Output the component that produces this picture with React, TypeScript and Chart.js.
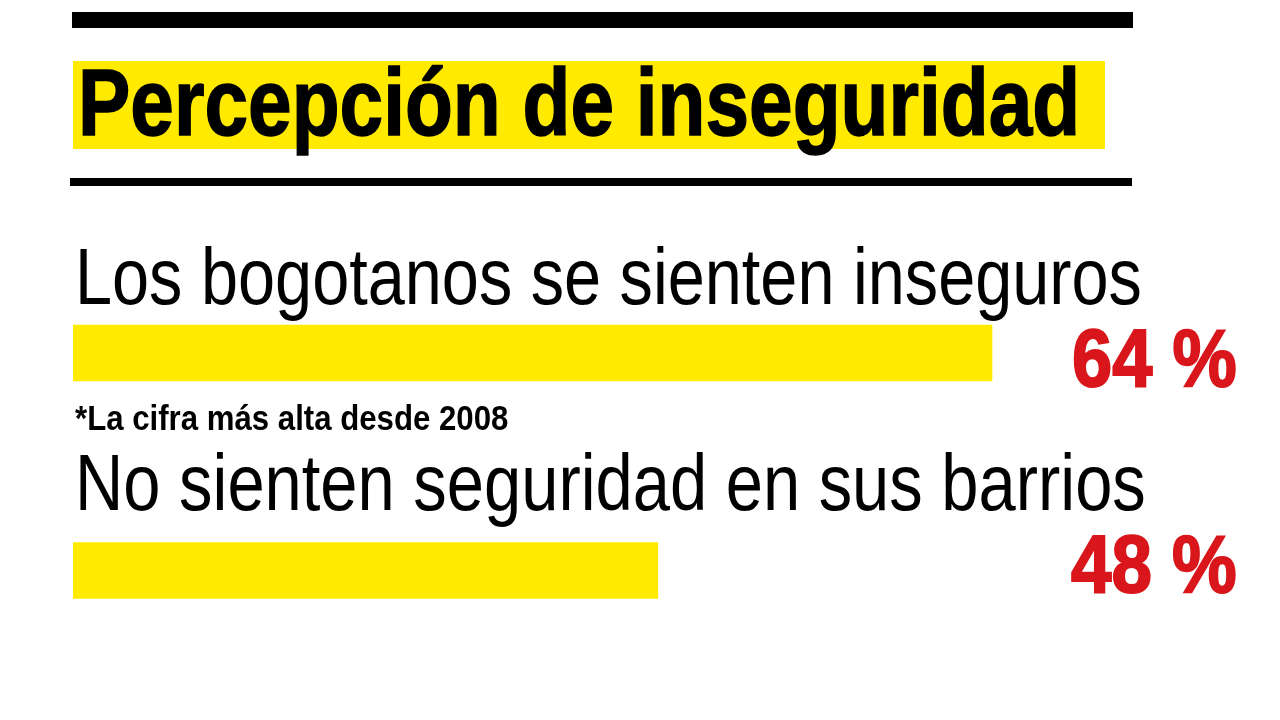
import { useEffect, useLayoutEffect, useRef, useState } from 'react';
import { Chart, registerables } from 'chart.js';

Chart.register(...registerables);

const title = 'Percepción de inseguridad';
const categories = ['Los bogotanos se sienten inseguros', 'No sienten seguridad en sus barrios'];
const values = [64, 48];
const valueLabels = values.map(v => `${v} %`);
const footnote = '*La cifra más alta desde 2008';

const YELLOW = '#ffea00';
const RED = '#d9161b';
const FONT = "'Liberation Sans', Arial, sans-serif";

interface FitTextProps {
  text: string;
  left: number;
  top: number;
  width: number;
  size: number;
  weight?: number;
  color?: string;
  stroke?: number;
}

// Text squeezed horizontally to the width it has in the reference (condensed look).
function FitText({ text, left, top, width, size, weight = 400, color = '#000', stroke = 0 }: FitTextProps): JSX.Element {
  const ref = useRef<HTMLSpanElement>(null);
  const [scale, setScale] = useState(1);

  useLayoutEffect(() => {
    const measure = () => {
      if (!ref.current) return;
      const w = ref.current.offsetWidth;
      if (w > 0) setScale(width / w);
    };
    measure();
    document.fonts?.ready.then(measure);
  }, [text, width, size]);

  return (
    <span
      ref={ref}
      style={{
        position: 'absolute',
        left,
        top,
        fontFamily: FONT,
        fontSize: size,
        fontWeight: weight,
        lineHeight: 1,
        color,
        whiteSpace: 'nowrap',
        WebkitTextStroke: stroke ? `${stroke}px ${color}` : undefined,
        transform: `scaleX(${scale})`,
        transformOrigin: 'left top',
      }}
    >
      {text}
    </span>
  );
}

function BarsChart(): JSX.Element {
  const canvasRef = useRef<HTMLCanvasElement>(null);
  const chartRef = useRef<Chart | null>(null);

  useEffect(() => {
    if (!canvasRef.current) return;
    if (chartRef.current) chartRef.current.destroy();

    chartRef.current = new Chart(canvasRef.current, {
      type: 'bar',
      data: {
        labels: categories,
        datasets: [
          {
            data: values,
            backgroundColor: YELLOW,
            borderWidth: 0,
            barThickness: 56,
          },
        ],
      },
      options: {
        indexAxis: 'y',
        responsive: false,
        animation: false,
        events: [],
        layout: { padding: { left: 73, right: 58.25, top: 244.25, bottom: 40.75 } },
        plugins: { legend: { display: false }, tooltip: { enabled: false } },
        scales: {
          x: { type: 'linear', min: 20, max: 75, display: false },
          y: { type: 'category', display: false },
        },
      },
    });

    return () => { chartRef.current?.destroy(); };
  }, []);

  return (
    <canvas
      ref={canvasRef}
      width={1280}
      height={720}
      style={{ position: 'absolute', left: 0, top: 0, width: 1280, height: 720 }}
    />
  );
}

export default function App(): JSX.Element {
  return (
    <div style={{ position: 'absolute', left: 0, top: 0, width: 1280, height: 720, background: '#fff', overflow: 'hidden' }}>
      <div style={{ position: 'absolute', left: 72, top: 12, width: 1061, height: 16, background: '#000' }} />
      <div style={{ position: 'absolute', left: 73, top: 61, width: 1032, height: 88, background: YELLOW }} />
      <FitText text={title} left={78} top={54.6} width={1002} size={95} weight={700} stroke={1.5} />
      <div style={{ position: 'absolute', left: 70, top: 178, width: 1062, height: 8, background: '#000' }} />

      <BarsChart />

      <FitText text={categories[0]} left={75} top={237.3} width={1067} size={80} />
      <FitText text={valueLabels[0]} left={1072} top={318.4} width={165} size={81} weight={700} color={RED} stroke={2} />
      <FitText text={footnote} left={75} top={400.4} width={433} size={35} weight={700} />
      <FitText text={categories[1]} left={75} top={443.3} width={1071} size={80} />
      <FitText text={valueLabels[1]} left={1071} top={524.4} width={166} size={81} weight={700} color={RED} stroke={2} />
    </div>
  );
}
